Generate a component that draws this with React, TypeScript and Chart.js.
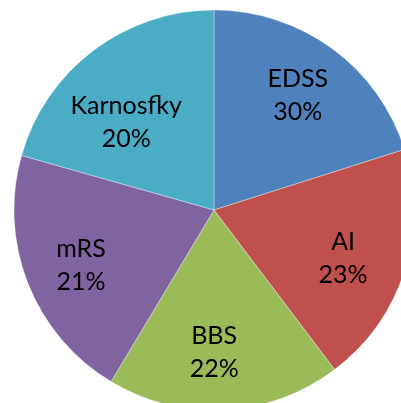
import React, { useEffect, useRef } from "react";
import { Chart, registerables } from "chart.js";

Chart.register(...registerables);

const categories = ["EDSS", "AI", "BBS", "mRS", "Karnosfky"];
const sliceValues = [20.1, 19.6, 18.9, 20.8, 20.6];
const percentLabels = ["30%", "23%", "22%", "21%", "20%"];
const colors = ["#4F81BD", "#C0504D", "#9BBB59", "#8064A2", "#4BACC6"];

const labelPlugin = {
  id: "sliceLabels",
  afterDatasetsDraw(chart: any, _args: any, opts: any) {
    const ctx = chart.ctx;
    const meta = chart.getDatasetMeta(0);
    const radii: number[] = opts.radiusFactors;
    const shifts: number[] = opts.angleShifts;
    ctx.save();
    ctx.fillStyle = "#000";
    ctx.font = "25px Lato";
    ctx.textAlign = "center";
    ctx.textBaseline = "middle";
    meta.data.forEach((arc: any, i: number) => {
      const p = arc.getProps(["x", "y", "startAngle", "endAngle", "outerRadius"], true);
      const a = (p.startAngle + p.endAngle) / 2 + (shifts[i] * Math.PI) / 180;
      const r = p.outerRadius * radii[i];
      const cx = p.x + Math.cos(a) * r;
      const cy = p.y + Math.sin(a) * r;
      ctx.fillText(chart.data.labels[i], cx, cy - 16.5);
      ctx.fillText(percentLabels[i], cx, cy + 16.5);
    });
    ctx.restore();
  },
};

export default function App() {
  const ref = useRef<HTMLCanvasElement>(null);
  useEffect(() => {
    if (!ref.current) return;
    const chart = new Chart(ref.current, {
      type: "pie",
      data: {
        labels: categories,
        datasets: [
          {
            data: sliceValues,
            backgroundColor: colors,
            borderColor: "rgba(255,255,255,0.35)",
            borderWidth: 1,
          },
        ],
      },
      options: {
        animation: false,
        responsive: false,
        radius: 200,
        layout: { padding: 0 },
        plugins: {
          legend: { display: false },
          tooltip: { enabled: false },
          sliceLabels: {
            radiusFactors: [0.71, 0.69, 0.71, 0.72, 0.62],
            angleShifts: [0, 3, 3, -1, -8],
          },
        } as any,
      },
      plugins: [labelPlugin],
    });
    return () => chart.destroy();
  }, []);
  return (
    <div style={{ position: "fixed", left: 0, top: 0, width: 401, height: 403, overflow: "hidden", background: "#fff" }}>
      <canvas
        ref={ref}
        width={420}
        height={420}
        style={{ position: "absolute", left: 3.5, top: 0, width: 420, height: 420 }}
      />
    </div>
  );
}
